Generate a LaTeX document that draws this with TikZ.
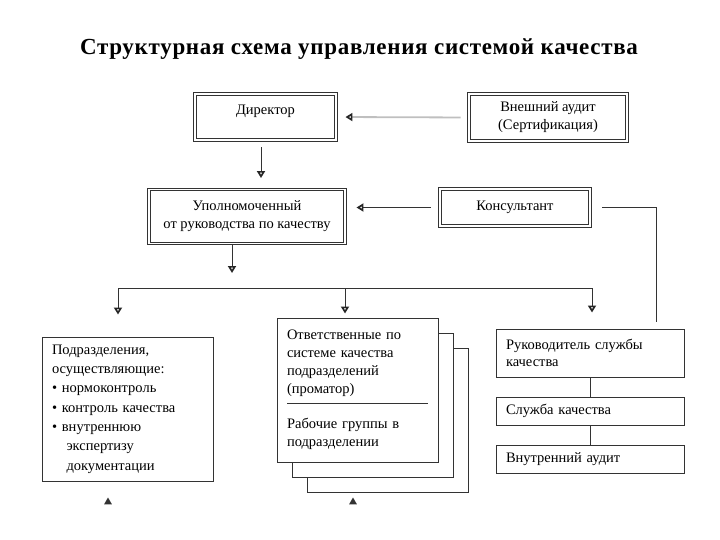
\documentclass[tikz,border=0pt]{standalone}
\usepackage{fontspec}
\setmainfont{Liberation Serif}
\usetikzlibrary{arrows.meta,shapes.geometric}

\begin{document}
\begin{tikzpicture}[x=1pt, y=-1pt,
    box/.style={draw=black!80, line width=1pt, fill=white, inner sep=0pt, font=\fontsize{14.5}{18}\selectfont},
    dbox/.style={box, double=white, double distance=1.8pt, line width=0.9pt},
    lbox/.style={box, align=left, inner xsep=10pt},
    link/.style={draw=black!80, line width=1pt},
    arr/.style={link, -{Triangle[open, color=black!85, length=7pt, width=8pt, line width=1.7pt]}},
    tmark/.style={regular polygon, regular polygon sides=3, fill=black!80, minimum size=9pt, inner sep=0pt}]
  \useasboundingbox (0, 0) rectangle (720, 540);

  \node (title) at (359, 49) {\fontsize{23}{26}\selectfont\bfseries\addfontfeatures{LetterSpace=3}Структурная схема управления системой качества};

  \node[dbox, minimum width=141pt, minimum height=46pt] (director) at (265.5, 117) {\raisebox{14pt}{Директор}};
  \node[dbox, align=center, minimum width=158pt, minimum height=47pt] (audit) at (548, 117.5) {Внешний аудит\\(Сертификация)};
  \node[dbox, align=center, minimum width=196pt, minimum height=54pt] (upoln) at (247, 216.5) {Уполномоченный\\от руководства по качеству};
  \node[dbox, minimum width=150pt, minimum height=37pt] (consult) at (515, 207.5) {Консультант};

  \node[lbox, text width=151pt, minimum height=144pt, font=\fontsize{14.5}{19.3}\selectfont] (podr) at (127.5, 409) {Подразделения,\\осуществляющие:\\\textbullet\ нормоконтроль\\\textbullet\ контроль качества\\\textbullet\ внутреннюю\\\hspace*{1em}экспертизу\\\hspace*{1em}документации};

  \node[box, minimum width=161pt, minimum height=144pt] (stackc) at (387.5, 420) {};
  \node[box, minimum width=161pt, minimum height=144pt] (stackb) at (372.5, 405) {};
  \node[lbox, text width=141pt, minimum height=144pt] (stack) at (357.5, 390) {Ответственные по\\системе качества\\подразделений\\(проматор)\\[17pt]Рабочие группы в\\подразделении};
  \coordinate (divl) at (287, 403);
  \coordinate (divr) at (428, 403);
  \draw[link] (divl) -- (divr);

  \node[lbox, text width=168pt, minimum height=48pt, font=\fontsize{14.5}{17}\selectfont] (ruk) at (590, 353) {Руководитель службы\\качества};
  \node[lbox, text width=168pt, minimum height=28pt] (sluzh) at (590, 411) {Служба качества};
  \node[lbox, text width=168pt, minimum height=28pt] (vnutr) at (590, 459) {Внутренний аудит};

  \node[tmark] (markl) at (108, 502) {};
  \node[tmark] (markm) at (353, 502) {};

  \draw[arr, draw=black!25, line width=1.8pt, shorten <=8pt, shorten >=9pt] (audit.west) -- (director.east);
  \draw[arr, shorten <=7pt, shorten >=11pt] ([xshift=-4.5pt]director.south) -- ([xshift=-4.5pt]director.south |- upoln.north);
  \draw[arr, shorten <=9pt, shorten >=11pt] (consult.west) -- (consult.west -| upoln.east);
  \draw[link, shorten <=12pt, shorten >=7pt] (consult.east) -| ([xshift=-28pt]ruk.north east);

  \coordinate (busl) at (118, 288);
  \coordinate (busm) at (345, 288);
  \coordinate (busr) at (592, 288);
  \draw[arr, shorten >=15pt] ([xshift=-15pt]upoln.south) -- ([xshift=-15pt]upoln.south |- busm);
  \draw[link] (busl) -- (busr);
  \draw[arr, shorten >=22pt] (busl) -- (busl |- podr.north);
  \draw[arr, shorten >=4pt] (busm) -- (busm |- stack.north);
  \draw[arr, shorten >=16pt] (busr) -- (busr |- ruk.north);

  \draw[link] (ruk) -- (sluzh);
  \draw[link] (sluzh) -- (vnutr);
\end{tikzpicture}
\end{document}
